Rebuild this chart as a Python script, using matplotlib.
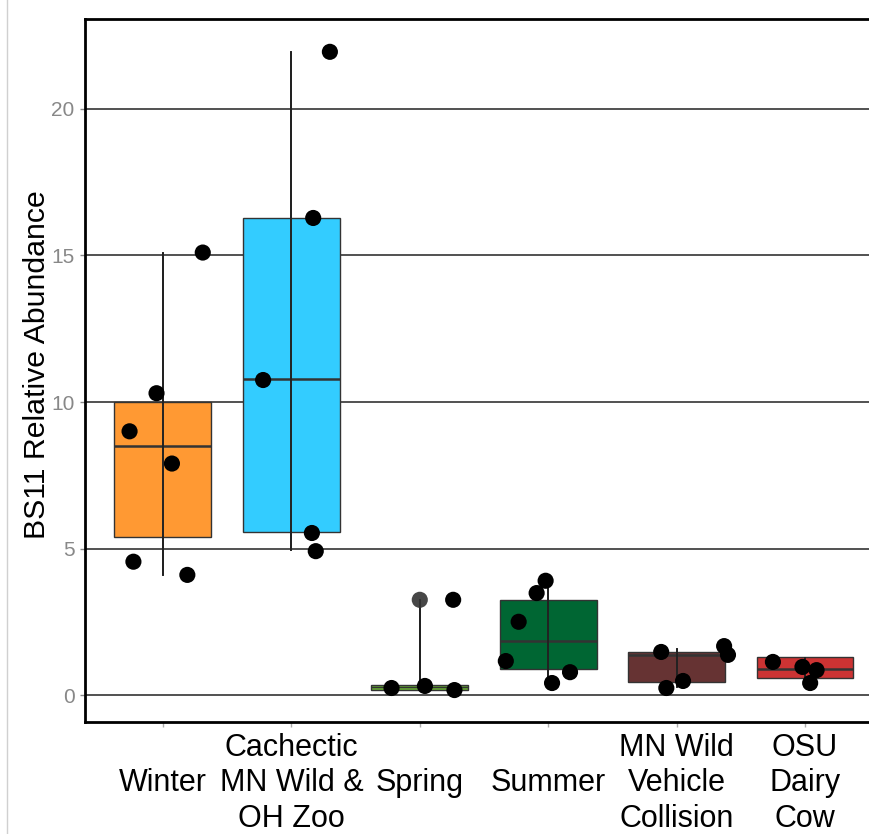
import matplotlib
matplotlib.use("Agg")
import matplotlib.pyplot as plt
from matplotlib.lines import Line2D

plt.rcParams['font.family'] = ['Liberation Sans', 'DejaVu Sans']

categories = ["Winter", "Cachectic\nMN Wild &\nOH Zoo", "Spring", "Summer",
              "MN Wild\nVehicle\nCollision", "OSU\nDairy\nCow"]
colors = ["#FF9933", "#33CCFF", "#66AA33", "#006633", "#663333", "#CC3333"]

# box summary per group: whisker low, Q1, median, Q3, whisker high
whislo = [4.1, 4.95, 0.17, 0.41, 0.27, 0.58]
q1 = [5.4, 5.55, 0.17, 0.88, 0.45, 0.58]
med = [8.5, 10.8, 0.26, 1.85, 1.37, 0.89]
q3 = [10.0, 16.28, 0.34, 3.25, 1.47, 1.30]
whishi = [15.1, 21.95, 3.25, 3.7, 1.57, 1.30]

# individual samples (group index, jitter, value)
pt_group = [0, 0, 0, 0, 0, 0,
            1, 1, 1, 1, 1,
            2, 2, 2, 2,
            3, 3, 3, 3, 3, 3,
            4, 4, 4, 4, 4,
            5, 5, 5, 5]
pt_jitter = [0.31, -0.05, -0.26, 0.07, -0.23, 0.19,
             0.30, 0.17, -0.22, 0.16, 0.19,
             0.26, -0.22, 0.04, 0.27,
             -0.02, -0.09, -0.23, -0.33, 0.17, 0.03,
             -0.12, 0.05, -0.08, 0.37, 0.40,
             -0.25, -0.02, 0.09, 0.04]
pt_value = [15.1, 10.3, 9.0, 7.9, 4.55, 4.1,
            21.95, 16.28, 10.75, 5.53, 4.91,
            3.25, 0.24, 0.31, 0.17,
            3.9, 3.48, 2.5, 1.16, 0.78, 0.41,
            1.47, 0.48, 0.24, 1.67, 1.37,
            1.13, 0.96, 0.85, 0.41]

# outliers flagged by the box summary
out_group = [2]
out_value = [3.25]

yticks = [0, 5, 10, 15, 20]

fig = plt.figure(figsize=(8.7, 8.34), dpi=100)
ax = fig.add_axes([85 / 870, 112 / 834, 785 / 870, 703 / 834])

positions = list(range(1, len(categories) + 1))
stats = []
for i in range(len(categories)):
    stats.append(dict(whislo=whislo[i], q1=q1[i], med=med[i], q3=q3[i],
                      whishi=whishi[i], fliers=[]))

bp = ax.bxp(stats, positions=positions, widths=0.755, patch_artist=True,
            showcaps=False, showfliers=False,
            boxprops=dict(edgecolor="#333333", linewidth=1.0),
            medianprops=dict(color="#333333", linewidth=1.8),
            whiskerprops=dict(color="#222222", linewidth=1.4),
            zorder=2)
for patch, c in zip(bp["boxes"], colors):
    patch.set_facecolor(c)
    patch.set_zorder(2)
for m in bp["medians"]:
    m.set_zorder(3)
bp["medians"][2].set_linewidth(1.0)

# whisker range drawn through the box
ax.vlines(positions, whislo, whishi, colors="#222222", linewidth=1.4, zorder=4)

ax.scatter([positions[g] for g in out_group], out_value, s=135,
           color="#333333", alpha=0.9, edgecolors="none", zorder=5)
ax.scatter([positions[g] + j for g, j in zip(pt_group, pt_jitter)], pt_value,
           s=135, color="black", edgecolors="none", zorder=6)

ax.set_xlim(0.393, 6.506)
ax.set_ylim(-0.92, 23.07)
ax.set_yticks(yticks)
ax.set_yticklabels([str(t) for t in yticks])
ax.set_xticks(positions)
ax.set_xticklabels(categories, fontsize=22, linespacing=1.25)
for lab in ax.get_xticklabels():
    lab.set_verticalalignment("center")
ax.tick_params(axis="y", labelsize=15, labelcolor="#888888", color="#888888",
               length=3.5, width=1, pad=4)
ax.tick_params(axis="x", color="#aaaaaa", length=3.6, width=1, pad=40.5)
ax.yaxis.grid(True, color="#222222", linewidth=1.1, zorder=0)
ax.set_axisbelow(True)
ax.set_ylabel("BS11 Relative Abundance", fontsize=21.8)
ax.yaxis.set_label_coords(-0.0433, 0.509)

for side in ["left", "bottom", "top"]:
    ax.spines[side].set_linewidth(2.0)
    ax.spines[side].set_color("black")
ax.spines["right"].set_visible(False)

fig.add_artist(Line2D([7 / 870, 7 / 870], [0, 1], transform=fig.transFigure,
                      color="#d0d0d0", linewidth=1))

fig.savefig("out.png", dpi=100)
